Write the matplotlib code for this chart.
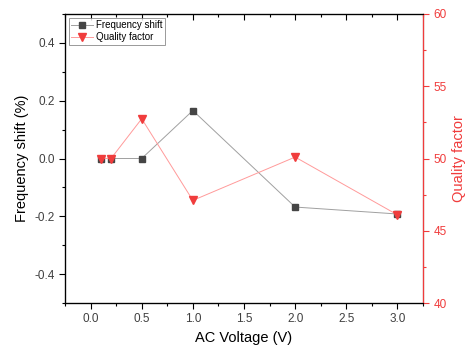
import matplotlib
matplotlib.use("Agg")
import matplotlib.pyplot as plt
from matplotlib.ticker import MultipleLocator

plt.rcParams['font.family'] = ['Liberation Sans', 'DejaVu Sans']
plt.rcParams['axes.unicode_minus'] = False

voltage = [0.1, 0.2, 0.5, 1.0, 2.0, 3.0]
freq_shift = [0.0, 0.0, 0.0, 0.166, -0.168, -0.192]
quality = [50.0, 50.0, 52.75, 47.1, 50.1, 46.1]

red = '#f03c3c'
tick_grey = '#404040'

fig = plt.figure(figsize=(4.66, 3.55), dpi=100)
ax = fig.add_axes([65/466, 52/355, 358/466, 289/355])

ax.plot(voltage, freq_shift, color='#a0a0a0', lw=0.7, marker='s', ms=4.2,
        mfc='#454545', mec='#454545', label='Frequency shift')
ax2 = ax.twinx()
l2, = ax2.plot(voltage, quality, color='#ff9a9a', lw=0.7, marker='v', ms=5.2,
               mfc=red, mec=red, label='Quality factor')

ax.set_xlim(-0.25, 3.25)
ax.set_ylim(-0.5, 0.5)
ax2.set_ylim(40, 60)

ax.xaxis.set_major_locator(MultipleLocator(0.5))
ax.xaxis.set_minor_locator(MultipleLocator(0.25))
ax.yaxis.set_major_locator(MultipleLocator(0.2))
ax.yaxis.set_minor_locator(MultipleLocator(0.1))
ax2.yaxis.set_major_locator(MultipleLocator(5))
ax2.yaxis.set_minor_locator(MultipleLocator(2.5))

ax.tick_params(axis='x', which='both', top=True, direction='out', labelsize=8.5,
               labelcolor=tick_grey, width=0.8)
ax.tick_params(axis='y', which='both', direction='out', labelsize=8.5,
               labelcolor=tick_grey, width=0.8)
ax.tick_params(which='major', length=4)
ax.tick_params(which='minor', length=2.5)
ax2.tick_params(axis='y', which='both', colors=red, labelsize=8.5, width=0.8)
ax2.tick_params(which='major', length=4)
ax2.tick_params(which='minor', length=2.5)

# top ticks point inward in the reference
for t in ax.xaxis.get_major_ticks() + ax.xaxis.get_minor_ticks():
    t.tick2line.set_marker(3)

for s in ['left', 'bottom', 'top']:
    ax.spines[s].set_linewidth(0.9)
ax2.spines['right'].set_color(red)
ax2.spines['right'].set_linewidth(0.9)

ax.set_xlabel('AC Voltage (V)', fontsize=10.5)
ax.set_ylabel('Frequency shift (%)', fontsize=10.5)
ax2.set_ylabel('Quality factor', fontsize=10.5, color=red)

h1, lab1 = ax.get_legend_handles_labels()
leg = ax.legend(h1 + [l2], lab1 + [l2.get_label()], loc='upper left',
                fontsize=7, frameon=True, fancybox=False, edgecolor='#808080',
                borderpad=0.25, labelspacing=0.2, handlelength=2.2,
                handletextpad=0.3, borderaxespad=0.4)
leg.get_frame().set_linewidth(0.7)

fig.savefig('out.png', dpi=100)
